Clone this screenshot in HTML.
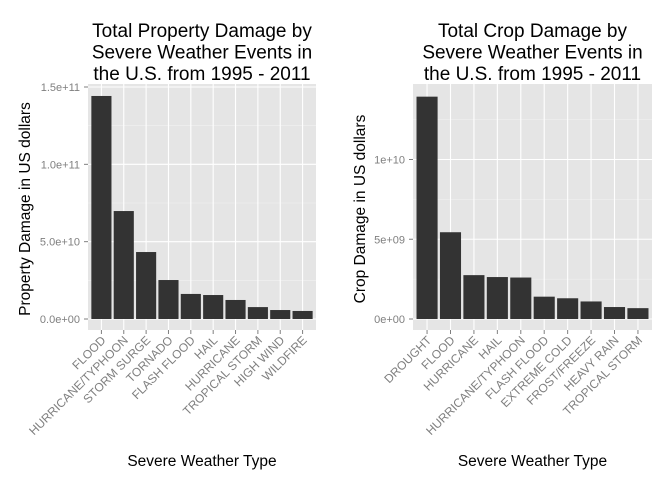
<!DOCTYPE html>
<html><head><meta charset="utf-8"><style>
html,body{margin:0;padding:0;background:#fff}
svg{display:block;font-family:"Liberation Sans",Arial,sans-serif}
</style></head><body>
<svg id="chart" width="672" height="480"></svg>
<script>
const propCats=["FLOOD","HURRICANE/TYPHOON","STORM SURGE","TORNADO","FLASH FLOOD","HAIL","HURRICANE","TROPICAL STORM","HIGH WIND","WILDFIRE"];
const propVals=[1.442e11,6.98e10,4.33e10,2.52e10,1.62e10,1.55e10,1.23e10,7.7e9,5.8e9,5.2e9];
const propTicks=[0,5e10,1e11,1.5e11];
const propTickLabels=["0.0e+00","5.0e+10","1.0e+11","1.5e+11"];
const cropCats=["DROUGHT","FLOOD","HURRICANE","HAIL","HURRICANE/TYPHOON","FLASH FLOOD","EXTREME COLD","FROST/FREEZE","HEAVY RAIN","TROPICAL STORM"];
const cropVals=[1.394e10,5.44e9,2.75e9,2.63e9,2.6e9,1.4e9,1.3e9,1.1e9,7.5e8,6.8e8];
const cropTicks=[0,5e9,1e10];
const cropTickLabels=["0e+00","5e+09","1e+10"];

const NS="http://www.w3.org/2000/svg";
const svg=document.getElementById('chart');
function el(tag,attrs,parent){const e=document.createElementNS(NS,tag);for(const k in attrs)e.setAttribute(k,attrs[k]);(parent||svg).appendChild(e);return e;}

function panel(o){
  const g=el('g',{});
  
  
  const x0=o.x0,x1=o.x1,top=84,bot=330,zeroY=319;
  const yScale=v=>zeroY-v*o.pxPer;
  const n=o.cats.length;
  const step=(x1-x0)/(n+0.2);
  const xScale=i=>x0+step*(0.6+i);
  const bg=el('rect',{x:x0,y:top,width:x1-x0,height:bot-top,fill:'#e5e5e5'},g);
  
  
  for(let i=0;i<o.ticks.length;i++){
    const mid=o.ticks[i]+(o.ticks[1]-o.ticks[0])/2;
    const y=yScale(mid);
    if(y>top) el('line',{x1:x0,x2:x1,y1:y,y2:y,stroke:'#f2f2f2','stroke-width':0.6},g);
    const ym=yScale(o.ticks[i]-(o.ticks[1]-o.ticks[0])/2);
    if(ym<bot && i==0) el('line',{x1:x0,x2:x1,y1:ym,y2:ym,stroke:'#f2f2f2','stroke-width':0.6},g);
  }
  o.ticks.forEach((t,i)=>{
    const y=yScale(t);
    el('line',{x1:x0,x2:x1,y1:y,y2:y,stroke:'#fff','stroke-width':1.1},g);
    el('line',{x1:x0-4,x2:x0,y1:y,y2:y,stroke:'#7f7f7f','stroke-width':1},g);
    const tl=el('text',{x:x0-8,y:y+4,'text-anchor':'end','font-size':11,fill:'#7f7f7f'},g);
    tl.textContent=o.tickLabels[i];
    
    
  });
  o.cats.forEach((c,i)=>{
    const cx=xScale(i);
    el('line',{x1:cx,x2:cx,y1:top,y2:bot,stroke:'#fff','stroke-width':1.1},g);
  });
  o.cats.forEach((c,i)=>{
    const cx=xScale(i),w=step*0.9;
    const b=el('rect',{x:cx-w/2,y:yScale(o.vals[i]),width:w,height:zeroY-yScale(o.vals[i]),fill:'#333333'},g);
    
    
    el('line',{x1:cx,x2:cx,y1:bot,y2:bot+4,stroke:'#7f7f7f','stroke-width':1},g);
    const ax=cx+5,ay=bot+11;
    const t=el('text',{x:ax,y:ay,'text-anchor':'end','font-size':12,fill:'#7f7f7f',transform:`rotate(-45 ${ax} ${ay})`},g);
    t.textContent=c;
    
    
  });
  const cx=(x0+x1)/2;
  o.title.forEach((line,i)=>{
    const t=el('text',{x:cx,y:37+i*21.5,'text-anchor':'middle','font-size':19,fill:'#000'},g);
    t.textContent=line;
    
    
  });
  const xt=el('text',{x:cx,y:466,'text-anchor':'middle','font-size':15.5,fill:'#000'},g);
  xt.textContent='Severe Weather Type';
  
  
  const yc=(top+bot)/2+2;
  const yt=el('text',{x:o.yTitleX,y:yc,'text-anchor':'middle','font-size':15.5,fill:'#000',transform:`rotate(-90 ${o.yTitleX} ${yc})`},g);
  yt.textContent=o.yTitle;
  
  
}
panel({name:'property-damage-panel',x0:88,x1:316,cats:propCats,vals:propVals,ticks:propTicks,tickLabels:propTickLabels,pxPer:232/1.5e11,
  title:["Total Property Damage by","Severe Weather Events in","the U.S. from 1995 - 2011"],yTitle:"Property Damage in US dollars",yTitleX:30});
panel({name:'crop-damage-panel',x0:413,x1:652,cats:cropCats,vals:cropVals,ticks:cropTicks,tickLabels:cropTickLabels,pxPer:159.5/1e10,
  title:["Total Crop Damage by","Severe Weather Events in","the U.S. from 1995 - 2011"],yTitle:"Crop Damage in US dollars",yTitleX:365});
</script>
</body></html>
